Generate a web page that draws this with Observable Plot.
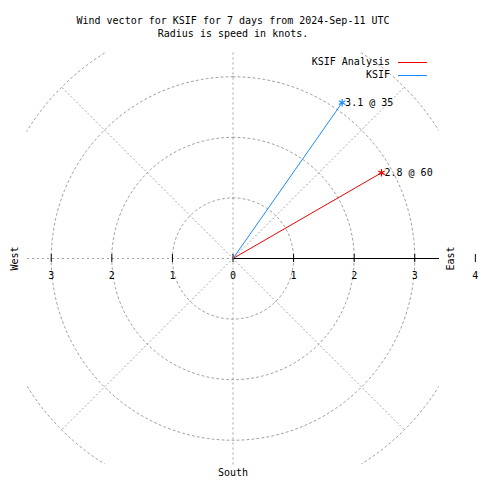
<!DOCTYPE html>
<html>
<head>
<meta charset="utf-8">
<script src="https://cdn.jsdelivr.net/npm/d3@7"></script>
<script src="https://cdn.jsdelivr.net/npm/@observablehq/plot@0.6"></script>
<style>
  html, body { margin: 0; padding: 0; background: #fff; }
  #chart svg { display: block; }
</style>
</head>
<body>
<div id="chart"></div>
<script>
// ---- data ----
const titleLines = ["Wind vector for KSIF for 7 days from 2024-Sep-11 UTC", "Radius is speed in knots."];
const series = ["KSIF Analysis", "KSIF"];
const speeds = [2.83, 3.14];          // knots
const directions = [60, 35];          // degrees clockwise from north
const labels = ["2.8 @ 60", "3.1 @ 35"];
const colors = ["#ee0000", "#1a8cff"];
const ringRadii = [1, 2, 3, 4];
const spokeAngles = [45, 135, 225, 315];
const tickValuesRight = [0, 1, 2, 3];
const tickValuesLeft = [1, 2, 3];
const outerTick = [4];
const extent = 3.4;

// ---- derived geometry ----
const rad = d => d * Math.PI / 180;
const vectors = series.map((s, i) => ({
  name: s, color: colors[i], label: labels[i],
  x: speeds[i] * Math.sin(rad(directions[i])),
  y: speeds[i] * Math.cos(rad(directions[i]))
}));
const rings = ringRadii.flatMap(r =>
  d3.range(0, 361, 2).map(a => ({r, x: r * Math.sin(rad(a)), y: r * Math.cos(rad(a))})));
const spokes = spokeAngles.flatMap(a => [
  {a, x: 0, y: 0},
  {a, x: 4 * Math.sin(rad(a)), y: 4 * Math.cos(rad(a))}
]);
const ticks = [
  ...tickValuesRight.map(v => ({x: v, label: String(v)})),
  ...tickValuesLeft.map(v => ({x: -v, label: String(v)})),
  ...outerTick.map(v => ({x: v, label: String(v)}))
];
const zero = ticks.map(() => 0);

const font = "'DejaVu Sans Mono', monospace";
const chart = Plot.plot({
  width: 480,
  height: 480,
  marginLeft: 26.5,
  marginRight: 41.5,
  marginTop: 52,
  marginBottom: 16,
  style: {fontFamily: font, fontSize: "10px", background: "#fff", color: "#000"},
  x: {type: "linear", domain: [-extent, extent], axis: null},
  y: {type: "linear", domain: [-extent, extent], axis: null},
  marks: [
    // rings
    Plot.line(rings, {x: "x", y: "y", z: "r", stroke: "#a0a0a0", strokeWidth: 1, strokeDasharray: "2,3", clip: true}),
    // diagonal spokes
    Plot.line(spokes, {x: "x", y: "y", z: "a", stroke: "#a0a0a0", strokeWidth: 1, strokeDasharray: "1,3", clip: true}),
    // vertical and west dashed axes
    Plot.link([0], {x1: 0, x2: 0, y1: -extent, y2: extent, stroke: "#a0a0a0", strokeDasharray: "2,3"}),
    Plot.link([0], {x1: -extent, x2: 0, y1: 0, y2: 0, stroke: "#a0a0a0", strokeDasharray: "2,3"}),
    // east solid axis
    Plot.link([0], {x1: 0, x2: extent, y1: 0, y2: 0, stroke: "#000", strokeWidth: 1}),
    // ticks
    Plot.ruleX(ticks, {x: "x", y1: zero, y2: zero, insetTop: -4, insetBottom: -4, stroke: "#000", strokeWidth: 1}),
    Plot.text(ticks, {x: "x", y: zero, text: "label", dy: 17, fontSize: 10}),
    // compass labels
    Plot.text(["East"], {x: extent, y: 0, text: d => d, rotate: -90, dx: 12, fontSize: 10}),
    Plot.text(["West"], {x: -extent, y: 0, text: d => d, rotate: -90, dx: -12, fontSize: 10}),
    Plot.text(["South"], {x: 0, y: -extent, text: d => d, dy: 8, fontSize: 10}),
    // vectors
    Plot.link(vectors, {x1: 0, y1: 0, x2: "x", y2: "y", stroke: "color", strokeWidth: 1}),
    Plot.dot(vectors, {x: "x", y: "y", stroke: "color", symbol: "asterisk", r: 3.5, strokeWidth: 1.2}),
    Plot.text(vectors, {x: "x", y: "y", text: "label", textAnchor: "start", dx: 3, fontSize: 10}),
    // title
    Plot.text([titleLines.join("\n")], {frameAnchor: "top", text: d => d, dy: -38, lineHeight: 1.3, fontSize: 10, lineAnchor: "top"})
  ]
});
document.getElementById("chart").appendChild(chart);

// legend
const svg = d3.select(chart);
const legendG = svg.append("g");
series.forEach((s, i) => {
  const yy = 62 + i * 13;
  legendG.append("text").attr("x", 390).attr("y", yy).attr("dy", "0.32em")
    .attr("text-anchor", "end").attr("font-family", font).attr("font-size", 10).text(s);
  legendG.append("line").attr("x1", 398).attr("x2", 427).attr("y1", yy + 0.5).attr("y2", yy + 0.5)
    .attr("stroke", colors[i]).attr("stroke-width", 1);
});
</script>
</body>
</html>
